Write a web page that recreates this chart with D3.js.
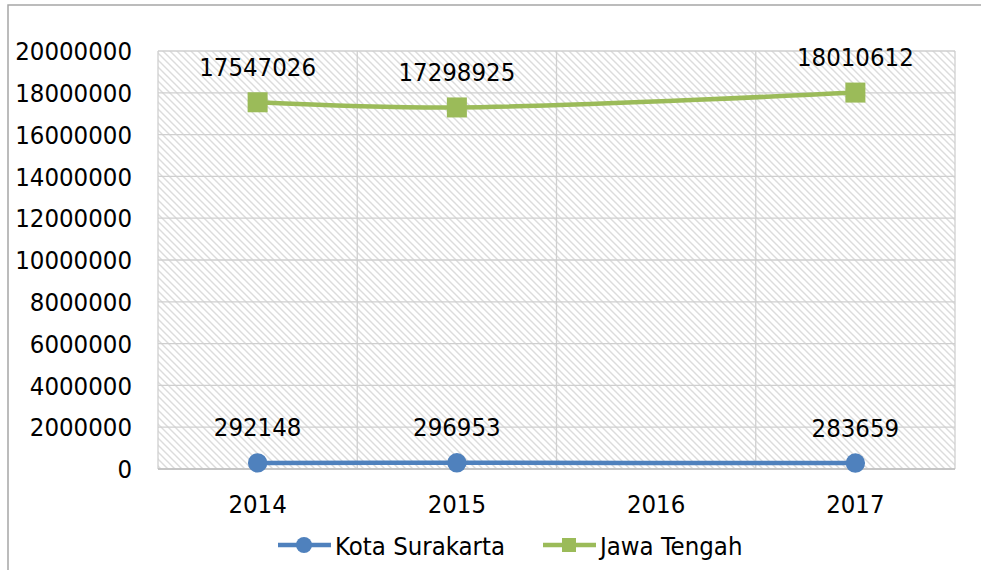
<!DOCTYPE html>
<html>
<head>
<meta charset="utf-8">
<script src="https://cdn.jsdelivr.net/npm/d3@7"></script>
<style>
  html, body { margin: 0; padding: 0; background: #fff; }
  svg { display: block; }
  text { font-family: "DejaVu Sans Condensed", "DejaVu Sans", sans-serif; fill: #000; }
</style>
</head>
<body>
<svg id="chart" width="981" height="570"></svg>
<script>
const categories = ["2014", "2015", "2016", "2017"];
const kotaSurakarta = [292148, 296953, null, 283659];
const jawaTengah = [17547026, 17298925, null, 18010612];
const seriesNames = ["Kota Surakarta", "Jawa Tengah"];
const yTicks = [0, 2000000, 4000000, 6000000, 8000000, 10000000, 12000000, 14000000, 16000000, 18000000, 20000000];

const svg = d3.select("#chart");
const plot = { left: 158, right: 955, top: 51, bottom: 469 };
const fontSize = 25.5;

// outer chart border
svg.append("rect")
  .attr("x", 8).attr("y", 5).attr("width", 978).attr("height", 580)
  .attr("fill", "#fff").attr("stroke", "#a6a6a6").attr("stroke-width", 1.5);

// hatch pattern
const defs = svg.append("defs");
const pat = defs.append("pattern")
  .attr("id", "hatch").attr("patternUnits", "userSpaceOnUse")
  .attr("width", 7).attr("height", 7);
pat.append("rect").attr("width", 7).attr("height", 7).attr("fill", "#fff");
pat.append("path")
  .attr("d", "M-1,-1 L8,8 M-1,6 L1,8 M6,-1 L8,1")
  .attr("stroke", "#dcdcdc").attr("stroke-width", 1.4);

const x = d3.scaleBand().domain(categories).range([plot.left, plot.right]).padding(0);
const y = d3.scaleLinear().domain([0, 20000000]).range([plot.bottom, plot.top]);
const cx = c => x(c) + x.bandwidth() / 2;

// plot background
svg.append("rect")
  .attr("x", plot.left).attr("y", plot.top)
  .attr("width", plot.right - plot.left).attr("height", plot.bottom - plot.top)
  .attr("fill", "url(#hatch)");

// horizontal gridlines
svg.append("g").selectAll("line").data(yTicks).join("line")
  .attr("x1", plot.left).attr("x2", plot.right)
  .attr("y1", d => y(d)).attr("y2", d => y(d))
  .attr("stroke", "#cfcfcf").attr("stroke-width", 1.3);

// vertical gridlines at category boundaries
const vLines = categories.map(c => x(c)).concat([plot.right]);
svg.append("g").selectAll("line").data(vLines).join("line")
  .attr("x1", d => d).attr("x2", d => d)
  .attr("y1", plot.top).attr("y2", plot.bottom)
  .attr("stroke", "#d0d0d0").attr("stroke-width", 1.3);

// bottom axis line
svg.append("line")
  .attr("x1", plot.left).attr("x2", plot.right)
  .attr("y1", plot.bottom).attr("y2", plot.bottom)
  .attr("stroke", "#bfbfbf").attr("stroke-width", 1.5);

// y axis labels
const yAxis = d3.axisLeft(y).tickValues(yTicks).tickFormat(d3.format("d")).tickSize(0).tickPadding(0);
const gy = svg.append("g").attr("transform", `translate(132,0)`).call(yAxis);
gy.select(".domain").remove();
gy.selectAll("text")
  .attr("font-size", fontSize).attr("font-family", "DejaVu Sans Condensed")
  .attr("fill", "#000").attr("dy", "0.34em");

// x axis labels
const xAxis = d3.axisBottom(x).tickSize(0).tickPadding(0);
const gx = svg.append("g").attr("transform", `translate(0,${plot.bottom})`).call(xAxis);
gx.select(".domain").remove();
gx.selectAll("text")
  .attr("font-size", fontSize).attr("font-family", "DejaVu Sans Condensed")
  .attr("fill", "#000").attr("dy", 0).attr("y", 44);

const series = [
  { name: seriesNames[0], values: kotaSurakarta, color: "#4f81bd", marker: "circle" },
  { name: seriesNames[1], values: jawaTengah, color: "#9bbb59", marker: "square" }
];

const line = d3.line()
  .x(d => cx(d.cat)).y(d => y(d.v))
  .curve(d3.curveCatmullRom.alpha(0.5));

series.forEach(s => {
  const pts = categories.map((c, i) => ({ cat: c, v: s.values[i] })).filter(d => d.v !== null);
  svg.append("path").datum(pts)
    .attr("d", line).attr("fill", "none")
    .attr("stroke", s.color).attr("stroke-width", 4.5).attr("stroke-linecap", "round");
  const g = svg.append("g");
  if (s.marker === "circle") {
    g.selectAll("circle").data(pts).join("circle")
      .attr("cx", d => cx(d.cat)).attr("cy", d => y(d.v)).attr("r", 9.7)
      .attr("fill", s.color);
  } else {
    g.selectAll("rect").data(pts).join("rect")
      .attr("x", d => cx(d.cat) - 10).attr("y", d => y(d.v) - 10)
      .attr("width", 20).attr("height", 20).attr("fill", s.color);
  }
  svg.append("g").selectAll("text").data(pts).join("text")
    .attr("x", d => cx(d.cat)).attr("y", d => y(d.v) - 26.5)
    .attr("text-anchor", "middle").attr("font-size", fontSize)
    .text(d => d.v);
});

// legend
const legendItems = [
  { name: seriesNames[0], color: "#4f81bd", marker: "circle", x0: 278 },
  { name: seriesNames[1], color: "#9bbb59", marker: "square", x0: 543 }
];
const ly = 545;
legendItems.forEach(it => {
  const g = svg.append("g");
  g.append("line").attr("x1", it.x0).attr("x2", it.x0 + 53)
    .attr("y1", ly).attr("y2", ly).attr("stroke", it.color).attr("stroke-width", 4.5);
  const mx = it.x0 + 26;
  if (it.marker === "circle") {
    g.append("circle").attr("cx", mx).attr("cy", ly).attr("r", 8).attr("fill", it.color);
  } else {
    g.append("rect").attr("x", mx - 7).attr("y", ly - 7).attr("width", 14).attr("height", 14).attr("fill", it.color);
  }
  g.append("text").attr("x", it.x0 + 57).attr("y", 555)
    .attr("font-size", fontSize).text(it.name);
});
</script>
</body>
</html>
